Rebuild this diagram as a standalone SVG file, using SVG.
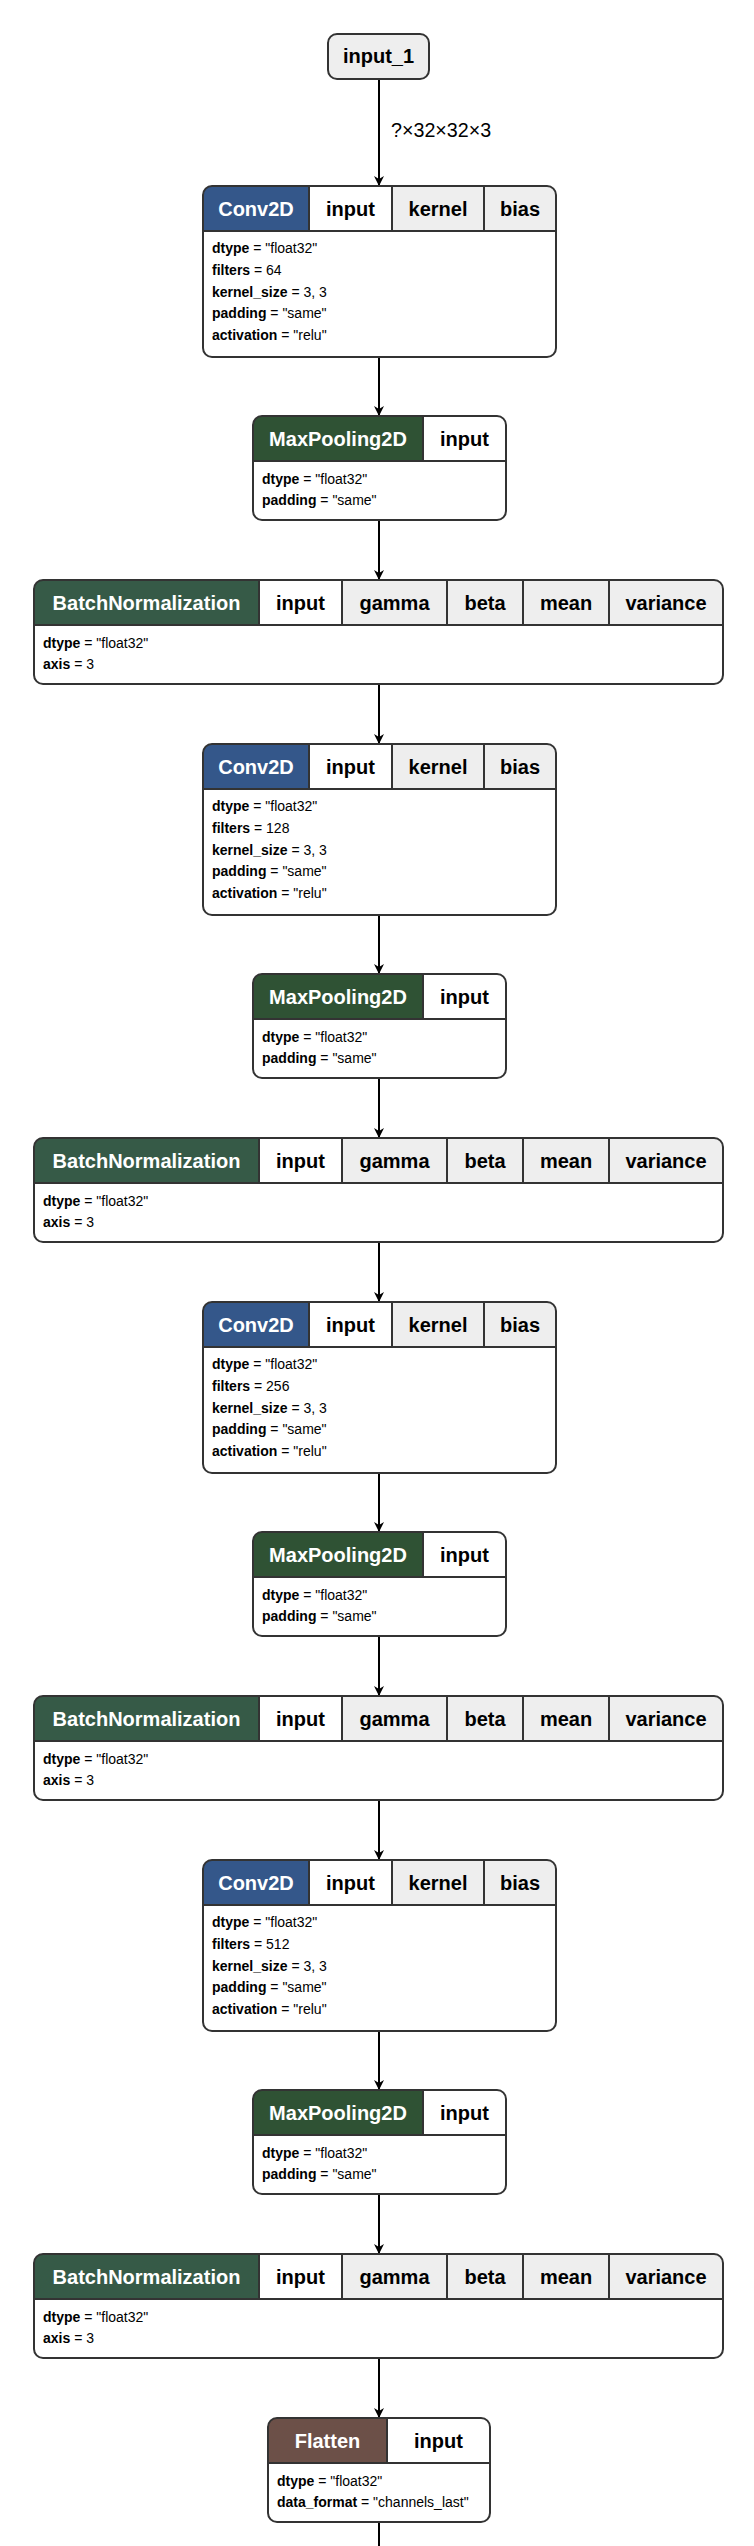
<svg xmlns="http://www.w3.org/2000/svg" width="754" height="2546" viewBox="0 0 754 2546">
<style>
text{font-family:"Liberation Sans",Arial,sans-serif}
.hd{font-size:20px;font-weight:bold;text-anchor:middle}
.w{fill:#ffffff}
.k{fill:#000000}
.at{font-size:14px;fill:#000}
.at tspan.b{font-weight:bold}
.frame{fill:none;stroke:#333333;stroke-width:2}
.sep{stroke:#333333;stroke-width:2}
.bg{fill:#ffffff}
.gray{fill:#eeeeee}
.conv{fill:#34578a}
.mp{fill:#2f5234}
.bn{fill:#365a47}
.fl{fill:#6c5048}
.edge{stroke:#000;stroke-width:2;fill:none}
.lbl{font-size:19.7px;fill:#000}
</style>
<defs>
<marker id="arr" viewBox="0 0 10 10" refX="10" refY="5" markerWidth="10" markerHeight="10" markerUnits="userSpaceOnUse" orient="auto">
<path d="M0,0 L10,5 L0,10 L3,5 z" fill="#000"/>
</marker>
<clipPath id="cConv" clipPathUnits="userSpaceOnUse"><rect x="0" y="0" width="353" height="171" rx="9"/></clipPath>
<clipPath id="cMP" clipPathUnits="userSpaceOnUse"><rect x="0" y="0" width="253" height="104" rx="9"/></clipPath>
<clipPath id="cBN" clipPathUnits="userSpaceOnUse"><rect x="0" y="0" width="689" height="104" rx="9"/></clipPath>
<clipPath id="cFL" clipPathUnits="userSpaceOnUse"><rect x="0" y="0" width="222" height="104" rx="9"/></clipPath>
</defs>
<rect width="754" height="2546" fill="#ffffff"/>

<g id="edges">
<line class="edge" x1="379" y1="79" x2="379" y2="186" marker-end="url(#arr)"/>
<text class="lbl" x="391" y="137">?×32×32×3</text>
<line class="edge" x1="379" y1="357" x2="379" y2="416" marker-end="url(#arr)"/>
<line class="edge" x1="379" y1="520" x2="379" y2="580" marker-end="url(#arr)"/>
<line class="edge" x1="379" y1="684" x2="379" y2="744" marker-end="url(#arr)"/>
<line class="edge" x1="379" y1="915" x2="379" y2="974" marker-end="url(#arr)"/>
<line class="edge" x1="379" y1="1078" x2="379" y2="1138" marker-end="url(#arr)"/>
<line class="edge" x1="379" y1="1242" x2="379" y2="1302" marker-end="url(#arr)"/>
<line class="edge" x1="379" y1="1473" x2="379" y2="1532" marker-end="url(#arr)"/>
<line class="edge" x1="379" y1="1636" x2="379" y2="1696" marker-end="url(#arr)"/>
<line class="edge" x1="379" y1="1800" x2="379" y2="1860" marker-end="url(#arr)"/>
<line class="edge" x1="379" y1="2031" x2="379" y2="2090" marker-end="url(#arr)"/>
<line class="edge" x1="379" y1="2194" x2="379" y2="2254" marker-end="url(#arr)"/>
<line class="edge" x1="379" y1="2358" x2="379" y2="2418" marker-end="url(#arr)"/>
<line class="edge" x1="379" y1="2522" x2="379" y2="2546"/>
</g>

<g id="input_1">
<rect x="328" y="34" width="101" height="45" rx="9" fill="#eeeeee" stroke="#333333" stroke-width="2"/>
<text class="hd k" x="378.5" y="63">input_1</text>
</g>

<!-- Conv2D 1 -->
<g id="conv2d_1" transform="translate(203,186)">
<rect class="bg" width="353" height="171" rx="9"/>
<g clip-path="url(#cConv)">
<rect class="conv" x="0" y="0" width="106" height="45"/>
<rect class="bg" x="106" y="0" width="83" height="45"/>
<rect class="gray" x="189" y="0" width="92" height="45"/>
<rect class="gray" x="281" y="0" width="72" height="45"/>
</g>
<line class="sep" x1="106" y1="0" x2="106" y2="45"/>
<line class="sep" x1="189" y1="0" x2="189" y2="45"/>
<line class="sep" x1="281" y1="0" x2="281" y2="45"/>
<line class="sep" x1="0" y1="45" x2="353" y2="45"/>
<rect class="frame" width="353" height="171" rx="9"/>
<text class="hd w" x="53" y="29.5">Conv2D</text>
<text class="hd k" x="147.5" y="29.5">input</text>
<text class="hd k" x="235" y="29.5">kernel</text>
<text class="hd k" x="317" y="29.5">bias</text>
<text class="at" x="9" y="67"><tspan class="b">dtype</tspan> = "float32"</text>
<text class="at" x="9" y="88.8"><tspan class="b">filters</tspan> = 64</text>
<text class="at" x="9" y="110.6"><tspan class="b">kernel_size</tspan> = 3, 3</text>
<text class="at" x="9" y="132.4"><tspan class="b">padding</tspan> = "same"</text>
<text class="at" x="9" y="154.2"><tspan class="b">activation</tspan> = "relu"</text>
</g>

<g id="max_pooling2d_1" transform="translate(253,416)">
<rect class="bg" width="253" height="104" rx="9"/>
<g clip-path="url(#cMP)">
<rect class="mp" x="0" y="0" width="170" height="45"/>
<rect class="bg" x="170" y="0" width="83" height="45"/>
</g>
<line class="sep" x1="170" y1="0" x2="170" y2="45"/>
<line class="sep" x1="0" y1="45" x2="253" y2="45"/>
<rect class="frame" width="253" height="104" rx="9"/>
<text class="hd w" x="85" y="29.5">MaxPooling2D</text>
<text class="hd k" x="211.5" y="29.5">input</text>
<text class="at" x="9" y="67.5"><tspan class="b">dtype</tspan> = "float32"</text>
<text class="at" x="9" y="89"><tspan class="b">padding</tspan> = "same"</text>
</g>

<g id="batch_normalization_1" transform="translate(34,580)">
<rect class="bg" width="689" height="104" rx="9"/>
<g clip-path="url(#cBN)">
<rect class="bn" x="0" y="0" width="225" height="45"/>
<rect class="bg" x="225" y="0" width="83" height="45"/>
<rect class="gray" x="308" y="0" width="381" height="45"/>
</g>
<line class="sep" x1="225" y1="0" x2="225" y2="45"/>
<line class="sep" x1="308" y1="0" x2="308" y2="45"/>
<line class="sep" x1="413" y1="0" x2="413" y2="45"/>
<line class="sep" x1="489" y1="0" x2="489" y2="45"/>
<line class="sep" x1="575" y1="0" x2="575" y2="45"/>
<line class="sep" x1="0" y1="45" x2="689" y2="45"/>
<rect class="frame" width="689" height="104" rx="9"/>
<text class="hd w" x="112.5" y="29.5">BatchNormalization</text>
<text class="hd k" x="266.5" y="29.5">input</text>
<text class="hd k" x="360.5" y="29.5">gamma</text>
<text class="hd k" x="451" y="29.5">beta</text>
<text class="hd k" x="532" y="29.5">mean</text>
<text class="hd k" x="632" y="29.5">variance</text>
<text class="at" x="9" y="67.5"><tspan class="b">dtype</tspan> = "float32"</text>
<text class="at" x="9" y="89"><tspan class="b">axis</tspan> = 3</text>
</g>

<!-- Conv2D 2 -->
<g id="conv2d_2" transform="translate(203,744)">
<rect class="bg" width="353" height="171" rx="9"/>
<g clip-path="url(#cConv)">
<rect class="conv" x="0" y="0" width="106" height="45"/>
<rect class="bg" x="106" y="0" width="83" height="45"/>
<rect class="gray" x="189" y="0" width="92" height="45"/>
<rect class="gray" x="281" y="0" width="72" height="45"/>
</g>
<line class="sep" x1="106" y1="0" x2="106" y2="45"/>
<line class="sep" x1="189" y1="0" x2="189" y2="45"/>
<line class="sep" x1="281" y1="0" x2="281" y2="45"/>
<line class="sep" x1="0" y1="45" x2="353" y2="45"/>
<rect class="frame" width="353" height="171" rx="9"/>
<text class="hd w" x="53" y="29.5">Conv2D</text>
<text class="hd k" x="147.5" y="29.5">input</text>
<text class="hd k" x="235" y="29.5">kernel</text>
<text class="hd k" x="317" y="29.5">bias</text>
<text class="at" x="9" y="67"><tspan class="b">dtype</tspan> = "float32"</text>
<text class="at" x="9" y="88.8"><tspan class="b">filters</tspan> = 128</text>
<text class="at" x="9" y="110.6"><tspan class="b">kernel_size</tspan> = 3, 3</text>
<text class="at" x="9" y="132.4"><tspan class="b">padding</tspan> = "same"</text>
<text class="at" x="9" y="154.2"><tspan class="b">activation</tspan> = "relu"</text>
</g>

<g id="max_pooling2d_2" transform="translate(253,974)">
<rect class="bg" width="253" height="104" rx="9"/>
<g clip-path="url(#cMP)">
<rect class="mp" x="0" y="0" width="170" height="45"/>
<rect class="bg" x="170" y="0" width="83" height="45"/>
</g>
<line class="sep" x1="170" y1="0" x2="170" y2="45"/>
<line class="sep" x1="0" y1="45" x2="253" y2="45"/>
<rect class="frame" width="253" height="104" rx="9"/>
<text class="hd w" x="85" y="29.5">MaxPooling2D</text>
<text class="hd k" x="211.5" y="29.5">input</text>
<text class="at" x="9" y="67.5"><tspan class="b">dtype</tspan> = "float32"</text>
<text class="at" x="9" y="89"><tspan class="b">padding</tspan> = "same"</text>
</g>

<g id="batch_normalization_2" transform="translate(34,1138)">
<rect class="bg" width="689" height="104" rx="9"/>
<g clip-path="url(#cBN)">
<rect class="bn" x="0" y="0" width="225" height="45"/>
<rect class="bg" x="225" y="0" width="83" height="45"/>
<rect class="gray" x="308" y="0" width="381" height="45"/>
</g>
<line class="sep" x1="225" y1="0" x2="225" y2="45"/>
<line class="sep" x1="308" y1="0" x2="308" y2="45"/>
<line class="sep" x1="413" y1="0" x2="413" y2="45"/>
<line class="sep" x1="489" y1="0" x2="489" y2="45"/>
<line class="sep" x1="575" y1="0" x2="575" y2="45"/>
<line class="sep" x1="0" y1="45" x2="689" y2="45"/>
<rect class="frame" width="689" height="104" rx="9"/>
<text class="hd w" x="112.5" y="29.5">BatchNormalization</text>
<text class="hd k" x="266.5" y="29.5">input</text>
<text class="hd k" x="360.5" y="29.5">gamma</text>
<text class="hd k" x="451" y="29.5">beta</text>
<text class="hd k" x="532" y="29.5">mean</text>
<text class="hd k" x="632" y="29.5">variance</text>
<text class="at" x="9" y="67.5"><tspan class="b">dtype</tspan> = "float32"</text>
<text class="at" x="9" y="89"><tspan class="b">axis</tspan> = 3</text>
</g>

<!-- Conv2D 3 -->
<g id="conv2d_3" transform="translate(203,1302)">
<rect class="bg" width="353" height="171" rx="9"/>
<g clip-path="url(#cConv)">
<rect class="conv" x="0" y="0" width="106" height="45"/>
<rect class="bg" x="106" y="0" width="83" height="45"/>
<rect class="gray" x="189" y="0" width="92" height="45"/>
<rect class="gray" x="281" y="0" width="72" height="45"/>
</g>
<line class="sep" x1="106" y1="0" x2="106" y2="45"/>
<line class="sep" x1="189" y1="0" x2="189" y2="45"/>
<line class="sep" x1="281" y1="0" x2="281" y2="45"/>
<line class="sep" x1="0" y1="45" x2="353" y2="45"/>
<rect class="frame" width="353" height="171" rx="9"/>
<text class="hd w" x="53" y="29.5">Conv2D</text>
<text class="hd k" x="147.5" y="29.5">input</text>
<text class="hd k" x="235" y="29.5">kernel</text>
<text class="hd k" x="317" y="29.5">bias</text>
<text class="at" x="9" y="67"><tspan class="b">dtype</tspan> = "float32"</text>
<text class="at" x="9" y="88.8"><tspan class="b">filters</tspan> = 256</text>
<text class="at" x="9" y="110.6"><tspan class="b">kernel_size</tspan> = 3, 3</text>
<text class="at" x="9" y="132.4"><tspan class="b">padding</tspan> = "same"</text>
<text class="at" x="9" y="154.2"><tspan class="b">activation</tspan> = "relu"</text>
</g>

<g id="max_pooling2d_3" transform="translate(253,1532)">
<rect class="bg" width="253" height="104" rx="9"/>
<g clip-path="url(#cMP)">
<rect class="mp" x="0" y="0" width="170" height="45"/>
<rect class="bg" x="170" y="0" width="83" height="45"/>
</g>
<line class="sep" x1="170" y1="0" x2="170" y2="45"/>
<line class="sep" x1="0" y1="45" x2="253" y2="45"/>
<rect class="frame" width="253" height="104" rx="9"/>
<text class="hd w" x="85" y="29.5">MaxPooling2D</text>
<text class="hd k" x="211.5" y="29.5">input</text>
<text class="at" x="9" y="67.5"><tspan class="b">dtype</tspan> = "float32"</text>
<text class="at" x="9" y="89"><tspan class="b">padding</tspan> = "same"</text>
</g>

<g id="batch_normalization_3" transform="translate(34,1696)">
<rect class="bg" width="689" height="104" rx="9"/>
<g clip-path="url(#cBN)">
<rect class="bn" x="0" y="0" width="225" height="45"/>
<rect class="bg" x="225" y="0" width="83" height="45"/>
<rect class="gray" x="308" y="0" width="381" height="45"/>
</g>
<line class="sep" x1="225" y1="0" x2="225" y2="45"/>
<line class="sep" x1="308" y1="0" x2="308" y2="45"/>
<line class="sep" x1="413" y1="0" x2="413" y2="45"/>
<line class="sep" x1="489" y1="0" x2="489" y2="45"/>
<line class="sep" x1="575" y1="0" x2="575" y2="45"/>
<line class="sep" x1="0" y1="45" x2="689" y2="45"/>
<rect class="frame" width="689" height="104" rx="9"/>
<text class="hd w" x="112.5" y="29.5">BatchNormalization</text>
<text class="hd k" x="266.5" y="29.5">input</text>
<text class="hd k" x="360.5" y="29.5">gamma</text>
<text class="hd k" x="451" y="29.5">beta</text>
<text class="hd k" x="532" y="29.5">mean</text>
<text class="hd k" x="632" y="29.5">variance</text>
<text class="at" x="9" y="67.5"><tspan class="b">dtype</tspan> = "float32"</text>
<text class="at" x="9" y="89"><tspan class="b">axis</tspan> = 3</text>
</g>

<!-- Conv2D 4 -->
<g id="conv2d_4" transform="translate(203,1860)">
<rect class="bg" width="353" height="171" rx="9"/>
<g clip-path="url(#cConv)">
<rect class="conv" x="0" y="0" width="106" height="45"/>
<rect class="bg" x="106" y="0" width="83" height="45"/>
<rect class="gray" x="189" y="0" width="92" height="45"/>
<rect class="gray" x="281" y="0" width="72" height="45"/>
</g>
<line class="sep" x1="106" y1="0" x2="106" y2="45"/>
<line class="sep" x1="189" y1="0" x2="189" y2="45"/>
<line class="sep" x1="281" y1="0" x2="281" y2="45"/>
<line class="sep" x1="0" y1="45" x2="353" y2="45"/>
<rect class="frame" width="353" height="171" rx="9"/>
<text class="hd w" x="53" y="29.5">Conv2D</text>
<text class="hd k" x="147.5" y="29.5">input</text>
<text class="hd k" x="235" y="29.5">kernel</text>
<text class="hd k" x="317" y="29.5">bias</text>
<text class="at" x="9" y="67"><tspan class="b">dtype</tspan> = "float32"</text>
<text class="at" x="9" y="88.8"><tspan class="b">filters</tspan> = 512</text>
<text class="at" x="9" y="110.6"><tspan class="b">kernel_size</tspan> = 3, 3</text>
<text class="at" x="9" y="132.4"><tspan class="b">padding</tspan> = "same"</text>
<text class="at" x="9" y="154.2"><tspan class="b">activation</tspan> = "relu"</text>
</g>

<g id="max_pooling2d_4" transform="translate(253,2090)">
<rect class="bg" width="253" height="104" rx="9"/>
<g clip-path="url(#cMP)">
<rect class="mp" x="0" y="0" width="170" height="45"/>
<rect class="bg" x="170" y="0" width="83" height="45"/>
</g>
<line class="sep" x1="170" y1="0" x2="170" y2="45"/>
<line class="sep" x1="0" y1="45" x2="253" y2="45"/>
<rect class="frame" width="253" height="104" rx="9"/>
<text class="hd w" x="85" y="29.5">MaxPooling2D</text>
<text class="hd k" x="211.5" y="29.5">input</text>
<text class="at" x="9" y="67.5"><tspan class="b">dtype</tspan> = "float32"</text>
<text class="at" x="9" y="89"><tspan class="b">padding</tspan> = "same"</text>
</g>

<g id="batch_normalization_4" transform="translate(34,2254)">
<rect class="bg" width="689" height="104" rx="9"/>
<g clip-path="url(#cBN)">
<rect class="bn" x="0" y="0" width="225" height="45"/>
<rect class="bg" x="225" y="0" width="83" height="45"/>
<rect class="gray" x="308" y="0" width="381" height="45"/>
</g>
<line class="sep" x1="225" y1="0" x2="225" y2="45"/>
<line class="sep" x1="308" y1="0" x2="308" y2="45"/>
<line class="sep" x1="413" y1="0" x2="413" y2="45"/>
<line class="sep" x1="489" y1="0" x2="489" y2="45"/>
<line class="sep" x1="575" y1="0" x2="575" y2="45"/>
<line class="sep" x1="0" y1="45" x2="689" y2="45"/>
<rect class="frame" width="689" height="104" rx="9"/>
<text class="hd w" x="112.5" y="29.5">BatchNormalization</text>
<text class="hd k" x="266.5" y="29.5">input</text>
<text class="hd k" x="360.5" y="29.5">gamma</text>
<text class="hd k" x="451" y="29.5">beta</text>
<text class="hd k" x="532" y="29.5">mean</text>
<text class="hd k" x="632" y="29.5">variance</text>
<text class="at" x="9" y="67.5"><tspan class="b">dtype</tspan> = "float32"</text>
<text class="at" x="9" y="89"><tspan class="b">axis</tspan> = 3</text>
</g>

<g id="flatten_1" transform="translate(268,2418)">
<rect class="bg" width="222" height="104" rx="9"/>
<g clip-path="url(#cFL)">
<rect class="fl" x="0" y="0" width="119" height="45"/>
<rect class="bg" x="119" y="0" width="103" height="45"/>
</g>
<line class="sep" x1="119" y1="0" x2="119" y2="45"/>
<line class="sep" x1="0" y1="45" x2="222" y2="45"/>
<rect class="frame" width="222" height="104" rx="9"/>
<text class="hd w" x="59.5" y="29.5">Flatten</text>
<text class="hd k" x="170.5" y="29.5">input</text>
<text class="at" x="9" y="67.5"><tspan class="b">dtype</tspan> = "float32"</text>
<text class="at" x="9" y="89"><tspan class="b">data_format</tspan> = "channels_last"</text>
</g>
</svg>
